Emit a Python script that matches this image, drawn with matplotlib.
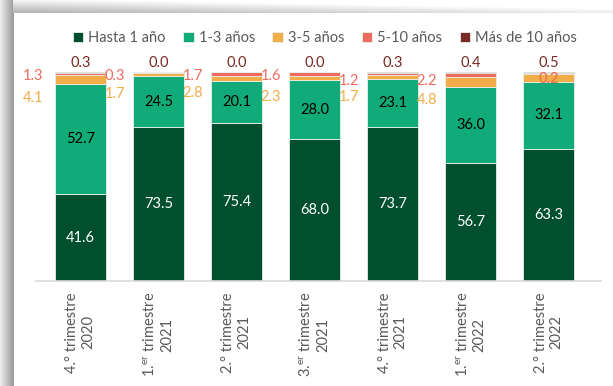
import numpy as np
import matplotlib
matplotlib.use("Agg")
from matplotlib import pyplot as plt

plt.rcParams['font.family'] = ['Lato', 'DejaVu Sans']
plt.rcParams['mathtext.fontset'] = 'custom'
plt.rcParams['mathtext.rm'] = 'Lato'

# data
periodos = ["4.° trimestre\n2020", "1.$^{\\mathrm{er}}$ trimestre\n2021", "2.° trimestre\n2021",
            "3.$^{\\mathrm{er}}$ trimestre\n2021", "4.° trimestre\n2021", "1.$^{\\mathrm{er}}$ trimestre\n2022",
            "2.° trimestre\n2022"]
hasta_1 = [41.6, 73.5, 75.4, 68.0, 73.7, 56.7, 63.3]
de_1_3 = [52.7, 24.5, 20.1, 28.0, 23.1, 36.0, 32.1]
de_3_5 = [4.1, 1.7, 2.8, 2.3, 1.7, 4.8, 3.9]
de_5_10 = [1.3, 0.3, 1.7, 1.6, 1.2, 2.2, 0.2]
mas_10 = [0.3, 0.0, 0.0, 0.0, 0.3, 0.4, 0.5]
series = ["Hasta 1 año", "1-3 años", "3-5 años", "5-10 años", "Más de 10 años"]
colores = ["#005030", "#10AB78", "#F0AD48", "#EE6B5F", "#7A2A22"]

# label placement (style)
y_lab_35 = [87.5, 89.5, 90, 88, 88, 86.5, 96.5]
y_lab_510 = [98.3, 98.3, 98.3, 98.3, 95.8, 95.8, 96.5]
dx_lab = [-0.61, -0.56, -0.56, -0.56, -0.56, -0.56, 0.0]

fig = plt.figure(figsize=(6.13, 3.86), dpi=100)

# shadow border
sl = fig.add_axes([0, 0, 13 / 613, 1])
sl.imshow(np.linspace(0.93, 0.6, 50)[None, :], cmap='gray', vmin=0, vmax=1, aspect='auto')
sl.axis('off')
st = fig.add_axes([13 / 613, 1 - 13 / 386, 1 - 13 / 613, 13 / 386])
grad = np.linspace(0.96, 0.7, 30)[:, None] + np.linspace(0, 0.22, 100)[None, :]
st.imshow(np.clip(grad, 0, 1), cmap='gray', vmin=0, vmax=1, aspect='auto')
st.axis('off')

ax = fig.add_axes([36 / 613, 1 - 281 / 386, 565 / 613, 210 / 386])
x = np.arange(len(periodos))
w = 0.655
vals = [hasta_1, de_1_3, de_3_5, de_5_10, mas_10]
bottom = np.zeros(len(x))
for v, c, s in zip(vals, colores, series):
    ax.bar(x, v, w, bottom=bottom, color=c, edgecolor='#e8f0ea', linewidth=0.6, label=s)
    bottom += np.array(v)

fs = 10.5
b1 = np.array(hasta_1)
for i in x:
    ax.text(i, b1[i] / 2, f"{hasta_1[i]:.1f}", ha='center', va='center', color='white', fontsize=fs)
    ax.text(i, b1[i] + de_1_3[i] / 2, f"{de_1_3[i]:.1f}", ha='center', va='center', color='black', fontsize=fs)
    ax.text(i + dx_lab[i], y_lab_35[i], f"{de_3_5[i]:.1f}", ha='center', va='center', color=colores[2], fontsize=fs)
    ax.text(i + dx_lab[i], y_lab_510[i], f"{de_5_10[i]:.1f}", ha='center', va='center', color=colores[3], fontsize=fs)
    ax.text(i, bottom[i] + 1.0, f"{mas_10[i]:.1f}", ha='center', va='bottom', color=colores[4], fontsize=fs)

ax.set_xlim(-0.57, 6.67)
ax.set_ylim(0, 100.5)
ax.set_yticks([])
ax.set_xticks(x)
ax.set_xticklabels(periodos, rotation=90, fontsize=10.5, color='#595959', multialignment='center')
ax.tick_params(axis='x', length=0, pad=8)
for s in ['top', 'right', 'left']:
    ax.spines[s].set_visible(False)
ax.spines['bottom'].set_color('#d9d9d9')
ax.spines['bottom'].set_linewidth(1.2)

fig.legend(loc='center', bbox_to_anchor=(0.53, 1 - 38 / 386), ncol=5, frameon=False,
           fontsize=10.5, handlelength=0.7, handleheight=0.7, handletextpad=0.35,
           columnspacing=1.2, labelcolor='#595959')

plt.savefig("out.png", dpi=100)
